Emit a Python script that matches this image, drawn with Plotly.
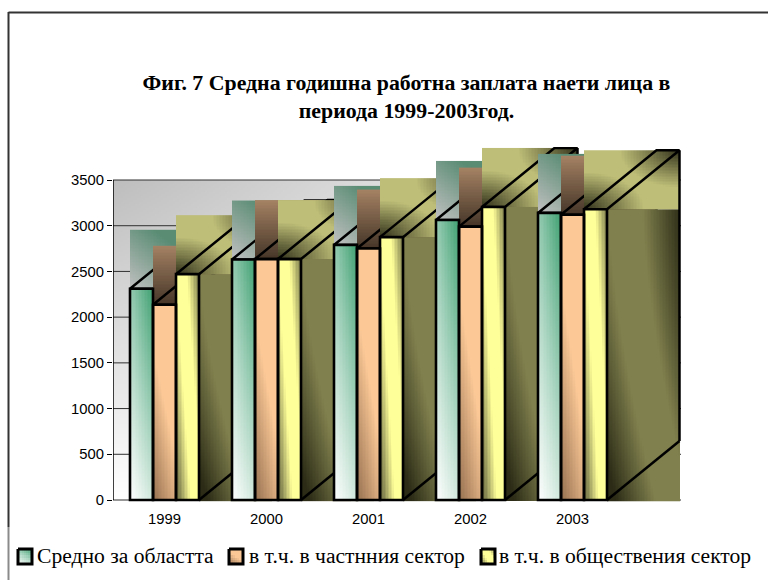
import numpy as np
import plotly.graph_objects as go

# ---------- data ----------
years = ["1999", "2000", "2001", "2002", "2003"]
series_names = ["Средно за областта", "в т.ч. в частнния сектор", "в т.ч. в обществения сектор"]
avg_region = [2310, 2630, 2790, 3063, 3140]
private_sector = [2135, 2635, 2750, 2990, 3120]
public_sector = [2470, 2635, 2875, 3205, 3180]
y_ticks = [0, 500, 1000, 1500, 2000, 2500, 3000, 3500]
title_lines = ["Фиг. 7 Средна годишна работна заплата наети лица в", "периода 1999-2003год."]

values = [avg_region, private_sector, public_sector]

# ---------- geometry (canvas pixels -> axis units) ----------
W, H = 768, 580
PX_Y = 320 / 3500            # pixels per value unit
PX_X = 102                   # pixels per category
X_LEFT, X_RIGHT = 113, 681   # plot frame
Y_TOP, Y_BOT = 147, 502
XR = [(X_LEFT - 164.5) / PX_X, (X_RIGHT - 164.5) / PX_X]
YR = [(500 - Y_BOT) / PX_Y, (500 - Y_TOP) / PX_Y]
BAR_W = 23 / PX_X
GROUP_W = 3 * BAR_W
DX = 72.5 / PX_X
DY = 59 / PX_Y
FLOOR = -11


def clip(a):
    return np.clip(a, 0, 1)


# ---------- gradient models: u = 0..1 left-right, v = 0..1 top-bottom ----------
def front_green(u, v):
    return clip(0.55 * (1 - v) + u * (0.25 + 0.2 * (1 - v)))


def front_orange(u, v):
    return clip((1 - v) * 1.3 + 0.7 * u)


def front_yellow(u, v):
    return clip((0.75 - np.abs(u - (0.22 + 0.68 * v))) / 0.5)


def top_green(u, v):
    return clip((1 - v) * 0.75 + u)


def top_orange(u, v):
    return clip(1 - v)


def top_yellow(u, v):
    d1 = np.sqrt(u ** 2 + (1 - v) ** 2)
    d2 = np.sqrt((1 - u) ** 2 + v ** 2)
    return clip((np.minimum(d1, d2) - 0.03) / 0.6)


def side_face(u, v):
    return clip((0.78 - np.abs(u - (0.25 + 0.65 * v ** 1.5))) / 0.55)


def wall_face(u, v):
    return clip(1 - (1 - v) * (1 - 0.9 * u))


FRONT = [front_green, front_orange, front_yellow]
TOP = [top_green, top_orange, top_yellow]
FRONT_SCALE = [["#FFFFFF", "#3FA072"], ["#957050", "#FBC896"], ["#80804F", "#FFFF99"]]
TOP_SCALE = [["#C0C0C0", "#5A8C74"], ["#453528", "#A58263"], ["#38381F", "#BEBE78"]]
SIDE_SCALE = [["#20382C", "#5E8C76"], ["#33261B", "#8B6C50"], ["#2B2B16", "#80804E"]]
WALL_SCALE = ["#BDBDBD", "#FFFFFF"]


def face(x0, x1, y0, y1, fn, scale, axes, px_cell=1.5):
    """Gradient rectangle from axis-unit corners; y1 is the upper edge."""
    nx = max(2, int(abs(x1 - x0) * axes[2] / px_cell))
    ny = max(2, int(abs(y1 - y0) * axes[3] / px_cell))
    xe = np.linspace(x0, x1, nx + 1)
    ye = np.linspace(y1, y0, ny + 1)
    u = (np.arange(nx) + 0.5) / nx
    v = (np.arange(ny) + 0.5) / ny
    uu, vv = np.meshgrid(u, v)
    return go.Heatmap(
        x=xe.round(4).tolist(), y=ye.round(2).tolist(), z=fn(uu, vv).round(3).tolist(),
        zmin=0, zmax=1, colorscale=[[0, scale[0]], [1, scale[1]]], showscale=False,
        hoverinfo="skip", xaxis=axes[0], yaxis=axes[1], xgap=0, ygap=0,
    )


def line(xs, ys, axes, width=2.5, color="#000000"):
    return go.Scatter(x=xs, y=ys, mode="lines", line=dict(color=color, width=width),
                      showlegend=False, hoverinfo="skip", xaxis=axes[0], yaxis=axes[1])


fig = go.Figure()
base = ("x", "y", PX_X, PX_Y)

# back wall, its gridlines and the value axis
fig.add_trace(face(XR[0], (623 - 164.5) / PX_X, 0, 3500, wall_face, WALL_SCALE, base, 2))
gx, gy = [], []
for t in y_ticks:
    gx += [XR[0], XR[1], None]
    gy += [t, t, None]
fig.add_trace(line(gx, gy, base, 1, "#303030"))
fig.add_trace(line([XR[0], XR[0]], [0, 3500], base, 1.5))

# depth faces, one overlay per bar so that later bars paint over earlier ones
overlay = 2
axis_layout = {}
for i in range(len(years)):
    for j in range(3):
        name = str(overlay)
        axes = ("x" + name, "y" + name, PX_X, PX_Y)
        axis_layout["xaxis" + name] = dict(overlaying="x", range=XR, visible=False, anchor="y" + name,
                                           domain=[X_LEFT / W, X_RIGHT / W])
        axis_layout["yaxis" + name] = dict(overlaying="y", range=YR, visible=False, anchor="x" + name,
                                           domain=[1 - Y_BOT / H, 1 - Y_TOP / H])
        val = values[j][i]
        left = i - GROUP_W / 2 + j * BAR_W
        right = left + BAR_W
        fig.add_trace(face(right, right + DX, FLOOR, val, side_face, SIDE_SCALE[j], axes))
        fig.add_trace(face(left, right + DX, val, val + DY, TOP[j], TOP_SCALE[j], axes))
        fig.add_trace(line([left, left + DX, right + DX, right, left, None, right + DX, right + DX, None, right, right + DX],
                           [val, val + DY, val + DY, val, val, None, val + DY, DY, None, 0, DY], axes))
        overlay += 1

# front faces and the bars themselves
name = str(overlay)
axes = ("x" + name, "y" + name, PX_X, PX_Y)
axis_layout["xaxis" + name] = dict(overlaying="x", range=XR, visible=False, anchor="y" + name,
                                   domain=[X_LEFT / W, X_RIGHT / W])
axis_layout["yaxis" + name] = dict(overlaying="y", range=YR, visible=False, anchor="x" + name,
                                   domain=[1 - Y_BOT / H, 1 - Y_TOP / H])
for j in range(3):
    for i in range(len(years)):
        left = i - GROUP_W / 2 + j * BAR_W
        fig.add_trace(face(left, left + BAR_W, 0, values[j][i], FRONT[j], FRONT_SCALE[j], axes))
for j in range(3):
    fig.add_trace(go.Bar(x=list(range(len(years))), y=values[j], name=series_names[j], showlegend=False,
                         marker=dict(color="rgba(0,0,0,0)", line=dict(color="#000000", width=2.6)),
                         xaxis=axes[0], yaxis=axes[1]))
overlay += 1

# legend: real entries, with gradient swatches drawn on a full-canvas axis pair
name = str(overlay)
axis_layout["xaxis" + name] = dict(range=[0, W], visible=False, anchor="y" + name, domain=[0, 1])
axis_layout["yaxis" + name] = dict(range=[H, 0], visible=False, anchor="x" + name, domain=[0, 1])
canvas = ("x" + name, "y" + name, 1, 1)
swatch_left = [18, 229, 481]
legend_text_left = [37, 249, 499]
legend_keys = ["legend", "legend2", "legend3"]
legend_layout = {}
for j in range(3):
    sx = swatch_left[j]
    fig.add_trace(go.Heatmap(
        x=np.linspace(sx, sx + 14, 8).tolist(), y=np.linspace(549, 564, 8).tolist(),
        z=FRONT[j](*np.meshgrid((np.arange(7) + .5) / 7, (np.arange(7) + .5) / 7)).round(3).tolist(),
        zmin=0, zmax=1, colorscale=[[0, FRONT_SCALE[j][0]], [1, FRONT_SCALE[j][1]]], showscale=False,
        hoverinfo="skip", xaxis=canvas[0], yaxis=canvas[1]))
    fig.add_trace(line([sx, sx + 14, sx + 14, sx, sx], [549, 549, 564, 564, 549], canvas, 3))
    fig.add_trace(go.Scatter(x=[None], y=[None], mode="markers", name=series_names[j],
                             marker=dict(size=1, color="rgba(0,0,0,0)"), showlegend=True,
                             legend=legend_keys[j], xaxis="x", yaxis="y"))
    legend_layout[legend_keys[j]] = dict(
        x=(legend_text_left[j] - 40) / W, y=1 - 555 / H, xanchor="left", yanchor="middle",
        bgcolor="rgba(0,0,0,0)", borderwidth=0, itemclick=False, itemdoubleclick=False,
        font=dict(family="Liberation Serif", size=21.6, color="#000000"))

# outer frame
shapes = [
    dict(type="line", xref="paper", yref="paper", x0=8.5 / W, x1=1, y0=1 - 12.5 / H, y1=1 - 12.5 / H,
         line=dict(color="#333333", width=2)),
    dict(type="line", xref="paper", yref="paper", x0=8.5 / W, x1=8.5 / W, y0=1 - 12 / H, y1=1 - 527 / H,
         line=dict(color="#333333", width=2)),
    dict(type="line", xref="paper", yref="paper", x0=8.5 / W, x1=8.5 / W, y0=1 - 527 / H, y1=0,
         line=dict(color="#8A8A8A", width=2)),
]

title_html = "<br>".join("<b>%s</b>" % t for t in title_lines)

fig.update_layout(
    width=W, height=H, margin=dict(l=0, r=0, t=0, b=0, autoexpand=False),
    paper_bgcolor="#FFFFFF", plot_bgcolor="rgba(0,0,0,0)", barmode="group", bargap=1 - GROUP_W, bargroupgap=0,
    shapes=shapes, hovermode=False,
    title=dict(text=title_html, x=406.5 / W, xanchor="center", y=1 - 90 / H, yanchor="top",
               font=dict(family="Liberation Serif", size=21.85, color="#000000")),
    xaxis=dict(domain=[X_LEFT / W, X_RIGHT / W], range=XR, tickmode="array",
               tickvals=list(range(len(years))), ticktext=years, showgrid=False, zeroline=False,
               showline=False, ticks="outside", ticklen=3, tickcolor="rgba(0,0,0,0)",
               tickfont=dict(family="Liberation Sans", size=14.8, color="#000000")),
    yaxis=dict(domain=[1 - Y_BOT / H, 1 - Y_TOP / H], range=YR, tickmode="array",
               tickvals=y_ticks, ticktext=[str(t) for t in y_ticks], showgrid=False, zeroline=False,
               showline=False, ticks="outside", ticklen=5, tickwidth=1, tickcolor="#000000",
               tickfont=dict(family="Liberation Sans", size=14.8, color="#000000")),
    **axis_layout, **legend_layout,
)

fig.write_html("out.html", config=dict(displayModeBar=False),
               post_script="document.body.style.margin='0';document.body.style.overflow='hidden';")
